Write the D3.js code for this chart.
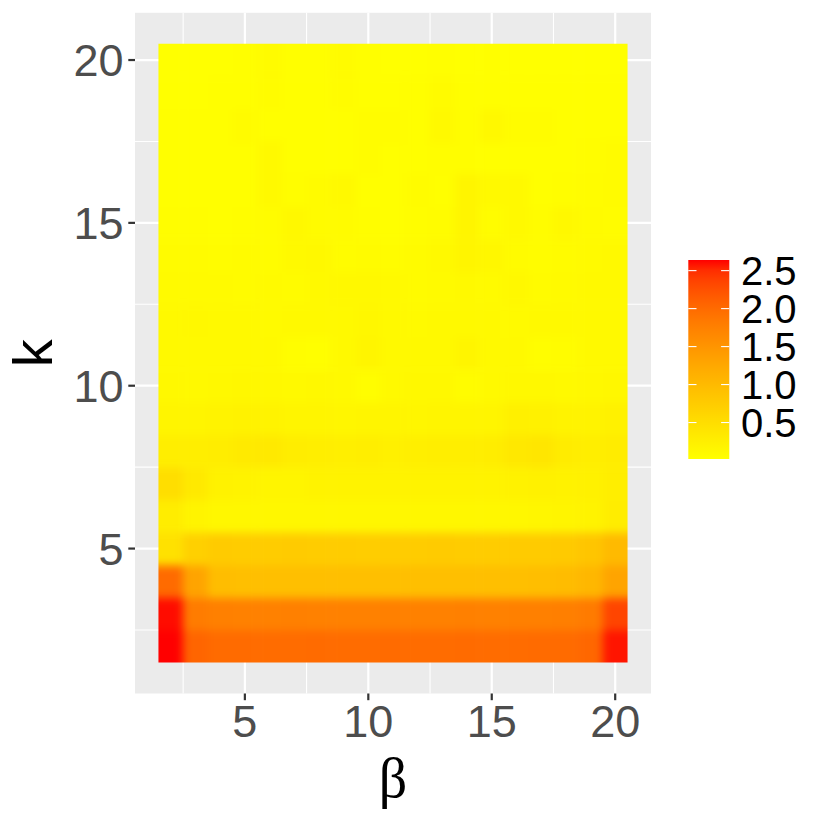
<!DOCTYPE html>
<html>
<head>
<meta charset="utf-8">
<script src="https://cdn.jsdelivr.net/npm/d3@7"></script>
<style>
  html, body { margin: 0; padding: 0; background: #ffffff; }
  svg { display: block; }
  text { font-family: "Liberation Sans", Arial, sans-serif; }
</style>
</head>
<body>
<div id="chart"></div>
<script>
// ---- data -------------------------------------------------------------
const betaValues = [2, 3, 4, 5, 6, 7, 8, 9, 10, 11, 12, 13, 14, 15, 16, 17, 18, 19, 20];
const kValues    = [2, 3, 4, 5, 6, 7, 8, 9, 10, 11, 12, 13, 14, 15, 16, 17, 18, 19, 20];

// one row per k (k = 2 ... 20), one entry per beta (beta = 2 ... 20)
const row_k2  = [2.64, 2.06, 2.00, 1.99, 1.98, 1.98, 1.99, 1.98, 1.98, 1.99, 1.98, 1.98, 1.99, 1.98, 1.98, 1.99, 2.00, 2.04, 2.60];
const row_k3  = [2.62, 1.80, 1.76, 1.75, 1.75, 1.76, 1.75, 1.74, 1.75, 1.76, 1.75, 1.75, 1.76, 1.75, 1.76, 1.76, 1.77, 1.82, 2.35];
const row_k4  = [2.00, 1.30, 0.96, 0.94, 0.93, 0.94, 0.94, 0.93, 0.94, 0.94, 0.93, 0.94, 0.94, 0.93, 0.94, 0.95, 0.97, 1.04, 1.30];
const row_k5  = [0.45, 0.70, 0.76, 0.75, 0.75, 0.76, 0.75, 0.75, 0.74, 0.75, 0.75, 0.76, 0.75, 0.75, 0.76, 0.77, 0.78, 0.85, 1.00];
const row_k6  = [0.28, 0.18, 0.14, 0.13, 0.13, 0.13, 0.14, 0.13, 0.13, 0.13, 0.14, 0.13, 0.13, 0.14, 0.14, 0.15, 0.16, 0.20, 0.28];
const row_k7  = [0.50, 0.34, 0.21, 0.19, 0.17, 0.17, 0.19, 0.20, 0.19, 0.19, 0.20, 0.19, 0.19, 0.20, 0.21, 0.22, 0.21, 0.22, 0.27];
const row_k8  = [0.27, 0.27, 0.28, 0.33, 0.34, 0.28, 0.26, 0.25, 0.26, 0.24, 0.25, 0.26, 0.26, 0.28, 0.36, 0.38, 0.30, 0.27, 0.30];
const row_k9  = [0.17, 0.17, 0.20, 0.21, 0.20, 0.17, 0.16, 0.15, 0.17, 0.16, 0.15, 0.17, 0.16, 0.17, 0.24, 0.23, 0.19, 0.19, 0.22];
const row_k10 = [0.12, 0.11, 0.12, 0.13, 0.12, 0.11, 0.12, 0.11, 0.05, 0.11, 0.12, 0.12, 0.06, 0.11, 0.12, 0.12, 0.11, 0.12, 0.13];
const row_k11 = [0.11, 0.10, 0.10, 0.10, 0.10, 0.05, 0.04, 0.10, 0.16, 0.11, 0.10, 0.10, 0.16, 0.11, 0.10, 0.05, 0.06, 0.10, 0.11];
const row_k12 = [0.10, 0.12, 0.10, 0.10, 0.09, 0.10, 0.10, 0.10, 0.14, 0.10, 0.09, 0.10, 0.10, 0.10, 0.09, 0.10, 0.10, 0.11, 0.10];
const row_k13 = [0.09, 0.09, 0.09, 0.08, 0.09, 0.08, 0.10, 0.12, 0.12, 0.10, 0.08, 0.09, 0.10, 0.09, 0.12, 0.08, 0.09, 0.10, 0.10];
const row_k14 = [0.08, 0.08, 0.07, 0.08, 0.07, 0.11, 0.12, 0.06, 0.08, 0.07, 0.08, 0.10, 0.16, 0.14, 0.08, 0.07, 0.08, 0.09, 0.10];
const row_k15 = [0.05, 0.05, 0.04, 0.05, 0.06, 0.12, 0.08, 0.08, 0.05, 0.04, 0.05, 0.06, 0.16, 0.06, 0.10, 0.06, 0.12, 0.08, 0.06];
const row_k16 = [0.04, 0.04, 0.03, 0.04, 0.10, 0.05, 0.08, 0.10, 0.04, 0.04, 0.06, 0.04, 0.16, 0.10, 0.10, 0.04, 0.05, 0.06, 0.08];
const row_k17 = [0.03, 0.03, 0.03, 0.04, 0.10, 0.04, 0.04, 0.04, 0.06, 0.03, 0.03, 0.05, 0.05, 0.04, 0.03, 0.04, 0.04, 0.05, 0.08];
const row_k18 = [0.03, 0.03, 0.03, 0.08, 0.04, 0.03, 0.04, 0.04, 0.06, 0.06, 0.03, 0.10, 0.05, 0.12, 0.06, 0.06, 0.04, 0.03, 0.04];
const row_k19 = [0.02, 0.02, 0.03, 0.03, 0.06, 0.03, 0.03, 0.06, 0.04, 0.03, 0.03, 0.08, 0.04, 0.03, 0.03, 0.03, 0.03, 0.03, 0.03];
const row_k20 = [0.02, 0.02, 0.02, 0.03, 0.08, 0.04, 0.03, 0.08, 0.03, 0.02, 0.02, 0.03, 0.02, 0.03, 0.02, 0.02, 0.02, 0.02, 0.02];

const rows = [row_k2, row_k3, row_k4, row_k5, row_k6, row_k7, row_k8, row_k9, row_k10,
              row_k11, row_k12, row_k13, row_k14, row_k15, row_k16, row_k17, row_k18, row_k19, row_k20];

const xTicks = [5, 10, 15, 20];
const yTicks = [5, 10, 15, 20];
const xMinor = [2.5, 7.5, 12.5, 17.5];
const yMinor = [2.5, 7.5, 12.5, 17.5];
const legendTicks = [0.5, 1.0, 1.5, 2.0, 2.5];
const xTitle = "β";
const yTitle = "k";

// ---- build cells ------------------------------------------------------
const cells = [];
kValues.forEach((k, i) => {
  betaValues.forEach((b, j) => {
    cells.push({ beta: b, k: k, value: rows[i][j] });
  });
});

// ---- layout -----------------------------------------------------------
const W = 831, H = 831;
const panel = { left: 135, right: 651, top: 12.8, bottom: 693.5 };

const svg = d3.select("#chart").append("svg")
  .attr("width", W).attr("height", H);

const x = d3.scaleLinear().domain([0.55, 21.45]).range([panel.left, panel.right]);
const y = d3.scaleLinear().domain([0.55, 21.45]).range([panel.bottom, panel.top]);

const extent = d3.extent(cells, d => d.value);
const color = d3.scaleLinear().domain(extent).range(["yellow", "red"]).interpolate(d3.interpolateLab);

// panel background
svg.append("rect")
  .attr("x", panel.left).attr("y", panel.top)
  .attr("width", panel.right - panel.left).attr("height", panel.bottom - panel.top)
  .attr("fill", "#EBEBEB");

// grid
const grid = svg.append("g");
grid.selectAll("line.xminor").data(xMinor).enter().append("line")
  .attr("x1", d => x(d)).attr("x2", d => x(d))
  .attr("y1", panel.top).attr("y2", panel.bottom)
  .attr("stroke", "#ffffff").attr("stroke-width", 1.1);
grid.selectAll("line.yminor").data(yMinor).enter().append("line")
  .attr("y1", d => y(d)).attr("y2", d => y(d))
  .attr("x1", panel.left).attr("x2", panel.right)
  .attr("stroke", "#ffffff").attr("stroke-width", 1.1);
grid.selectAll("line.xmajor").data(xTicks).enter().append("line")
  .attr("x1", d => x(d)).attr("x2", d => x(d))
  .attr("y1", panel.top).attr("y2", panel.bottom)
  .attr("stroke", "#ffffff").attr("stroke-width", 2.2);
grid.selectAll("line.ymajor").data(yTicks).enter().append("line")
  .attr("y1", d => y(d)).attr("y2", d => y(d))
  .attr("x1", panel.left).attr("x2", panel.right)
  .attr("stroke", "#ffffff").attr("stroke-width", 2.2);

// raster (smoothed like an interpolated raster)
const defs = svg.append("defs");
const rx0 = x(betaValues[0] - 0.5), rx1 = x(betaValues[betaValues.length - 1] + 0.5);
const ry0 = y(kValues[kValues.length - 1] + 0.5), ry1 = y(kValues[0] - 0.5);
defs.append("clipPath").attr("id", "rasterClip")
  .append("rect").attr("x", rx0).attr("y", ry0).attr("width", rx1 - rx0).attr("height", ry1 - ry0);
const flt = defs.append("filter").attr("id", "smooth")
  .attr("filterUnits", "userSpaceOnUse")
  .attr("x", rx0 - 40).attr("y", ry0 - 40)
  .attr("width", rx1 - rx0 + 80).attr("height", ry1 - ry0 + 80)
  .attr("color-interpolation-filters", "sRGB");
flt.append("feGaussianBlur").attr("stdDeviation", 4);

const bMin = betaValues[0], bMax = betaValues[betaValues.length - 1];
const kMin = kValues[0], kMax = kValues[kValues.length - 1];
const pad = 0.8; // extend border cells outward so the smoothing does not fade at edges

svg.append("g").attr("clip-path", "url(#rasterClip)")
  .append("g").attr("filter", "url(#smooth)")
  .selectAll("rect").data(cells).enter().append("rect")
  .attr("x", d => x(d.beta - 0.5 - (d.beta === bMin ? pad : 0)))
  .attr("width", d => x(d.beta + 0.5 + (d.beta === bMax ? pad : 0)) - x(d.beta - 0.5 - (d.beta === bMin ? pad : 0)) + 0.5)
  .attr("y", d => y(d.k + 0.5 + (d.k === kMax ? pad : 0)))
  .attr("height", d => y(d.k - 0.5 - (d.k === kMin ? pad : 0)) - y(d.k + 0.5 + (d.k === kMax ? pad : 0)) + 0.5)
  .attr("fill", d => color(d.value));

// axes ticks
const axisCol = "#333333";
const tickTextCol = "#4D4D4D";
svg.append("g").selectAll("line").data(yTicks).enter().append("line")
  .attr("x1", panel.left - 6.7).attr("x2", panel.left)
  .attr("y1", d => y(d)).attr("y2", d => y(d))
  .attr("stroke", axisCol).attr("stroke-width", 2.2);
svg.append("g").selectAll("line").data(xTicks).enter().append("line")
  .attr("y1", panel.bottom).attr("y2", panel.bottom + 6.7)
  .attr("x1", d => x(d)).attr("x2", d => x(d))
  .attr("stroke", axisCol).attr("stroke-width", 2.2);

const tickFs = 45;
svg.append("g").selectAll("text").data(yTicks).enter().append("text")
  .attr("x", panel.left - 11.5)
  .attr("y", d => y(d) + 0.358 * tickFs)
  .attr("text-anchor", "end")
  .attr("font-size", tickFs).attr("fill", tickTextCol)
  .text(d => d);
svg.append("g").selectAll("text").data(xTicks).enter().append("text")
  .attr("x", d => x(d))
  .attr("y", 737.3)
  .attr("text-anchor", "middle")
  .attr("font-size", tickFs).attr("fill", tickTextCol)
  .text(d => d);

// axis titles
svg.append("text")
  .attr("x", (panel.left + panel.right) / 2)
  .attr("y", 797)
  .attr("text-anchor", "middle")
  .attr("font-size", 56)
  .style("font-family", "'Liberation Serif', 'DejaVu Serif', serif")
  .attr("fill", "#000")
  .text(xTitle);
svg.append("text")
  .attr("transform", `translate(52, ${(panel.top + panel.bottom) / 2}) rotate(-90)`)
  .attr("text-anchor", "middle")
  .attr("font-size", 56)
  .attr("fill", "#000")
  .text(yTitle);

// legend
const leg = { x: 688.3, w: 41, top: 260, bottom: 459 };
const ly = d3.scaleLinear().domain(extent).range([leg.bottom, leg.top]);
const grad = defs.append("linearGradient").attr("id", "legGrad")
  .attr("x1", 0).attr("y1", 1).attr("x2", 0).attr("y2", 0);
d3.range(0, 1.0001, 0.05).forEach(t => {
  grad.append("stop").attr("offset", t)
    .attr("stop-color", color(extent[0] + t * (extent[1] - extent[0])));
});
svg.append("rect")
  .attr("x", leg.x).attr("y", leg.top).attr("width", leg.w).attr("height", leg.bottom - leg.top)
  .attr("fill", "url(#legGrad)");
const lt = svg.append("g");
lt.selectAll("line.l").data(legendTicks).enter().append("line")
  .attr("x1", leg.x).attr("x2", leg.x + 8.2)
  .attr("y1", d => ly(d)).attr("y2", d => ly(d))
  .attr("stroke", "#fff").attr("stroke-width", 1.1);
lt.selectAll("line.r").data(legendTicks).enter().append("line")
  .attr("x1", leg.x + leg.w - 8.2).attr("x2", leg.x + leg.w)
  .attr("y1", d => ly(d)).attr("y2", d => ly(d))
  .attr("stroke", "#fff").attr("stroke-width", 1.1);
const legFs = 40;
lt.selectAll("text").data(legendTicks).enter().append("text")
  .attr("x", 741)
  .attr("y", d => ly(d) + 0.358 * legFs)
  .attr("font-size", legFs).attr("fill", "#000")
  .text(d => d.toFixed(1));
</script>
</body>
</html>
